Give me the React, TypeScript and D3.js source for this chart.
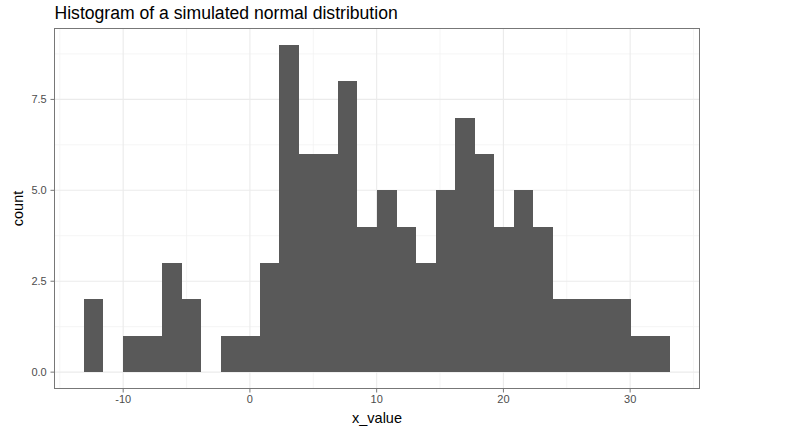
import React from "react";
import * as d3 from "d3";

// ---- data ----
const binCounts = [2, 0, 1, 1, 3, 2, 0, 1, 1, 3, 9, 6, 6, 8, 4, 5, 4, 3, 5, 7, 6, 4, 5, 4, 2, 2, 2, 2, 1, 1];
const binStart = -13.105;
const binWidth = 1.5421;
const xMajorTicks = [-10, 0, 10, 20, 30];
const xMinorTicks = [-15, -5, 5, 15, 25, 35];
const yMajorTicks = [0, 2.5, 5, 7.5];
const yMinorTicks = [1.25, 3.75, 6.25, 8.75];
const yTickLabels = ["0.0", "2.5", "5.0", "7.5"];
const xTickLabels = ["-10", "0", "10", "20", "30"];
const title = "Histogram of a simulated normal distribution";
const xTitle = "x_value";
const yTitle = "count";

const W = 798;
const H = 433;
const panel = { left: 54.5, right: 699.5, top: 28.5, bottom: 388.5 };
const FONT = "'Liberation Sans', Arial, Helvetica, sans-serif";

export default function App() {
  const bins = binCounts.map((c, i) => ({ x0: binStart + i * binWidth, x1: binStart + (i + 1) * binWidth, c }));
  const xMin = bins[0].x0;
  const xMax = bins[bins.length - 1].x1;
  const xPad = (xMax - xMin) * 0.05;
  const yMax = d3.max(binCounts) as number;
  const yPad = yMax * 0.05;

  const x = d3.scaleLinear().domain([xMin - xPad, xMax + xPad]).range([panel.left, panel.right]);
  const y = d3.scaleLinear().domain([-yPad, yMax + yPad]).range([panel.bottom, panel.top]);

  return (
    <svg
      width={W}
      height={H}
      style={{ position: "absolute", left: 0, top: 0, background: "#fff" }}
      fontFamily={FONT}
    >
      <rect x={0} y={0} width={W} height={H} fill="#fff" />
      {/* minor grid */}
      {xMinorTicks.map((t) => (
        <line key={"xm" + t} x1={x(t)} x2={x(t)} y1={panel.top} y2={panel.bottom} stroke="#F3F3F3" strokeWidth={0.8} />
      ))}
      {yMinorTicks.map((t) => (
        <line key={"ym" + t} y1={y(t)} y2={y(t)} x1={panel.left} x2={panel.right} stroke="#F3F3F3" strokeWidth={0.8} />
      ))}
      {/* major grid */}
      {xMajorTicks.map((t) => (
        <line key={"xM" + t} x1={x(t)} x2={x(t)} y1={panel.top} y2={panel.bottom} stroke="#EBEBEB" strokeWidth={1.1} />
      ))}
      {yMajorTicks.map((t) => (
        <line key={"yM" + t} y1={y(t)} y2={y(t)} x1={panel.left} x2={panel.right} stroke="#EBEBEB" strokeWidth={1.1} />
      ))}
      {/* bars */}
      <g shapeRendering="crispEdges">
        {bins.map((b, i) =>
          b.c > 0 ? (
            <rect
              key={"b" + i}
              x={x(b.x0)}
              width={x(b.x1) - x(b.x0)}
              y={y(b.c)}
              height={y(0) - y(b.c)}
              fill="#595959"
            />
          ) : null
        )}
      </g>
      {/* border */}
      <rect
        x={panel.left}
        y={panel.top}
        width={panel.right - panel.left}
        height={panel.bottom - panel.top}
        fill="none"
        stroke="#777777"
        strokeWidth={1}
      />
      {/* y ticks */}
      {yMajorTicks.map((t, i) => (
        <g key={"yt" + t}>
          <line x1={panel.left - 4} x2={panel.left} y1={y(t)} y2={y(t)} stroke="#777777" strokeWidth={1} />
          <text x={46.7} y={y(t)} dy="0.35em" textAnchor="end" fontSize={11} fill="#4D4D4D">
            {yTickLabels[i]}
          </text>
        </g>
      ))}
      {/* x ticks */}
      {xMajorTicks.map((t, i) => (
        <g key={"xt" + t}>
          <line x1={x(t)} x2={x(t)} y1={panel.bottom} y2={panel.bottom + 4} stroke="#777777" strokeWidth={1} />
          <text x={x(t)} y={403.3} textAnchor="middle" fontSize={11} fill="#4D4D4D">
            {xTickLabels[i]}
          </text>
        </g>
      ))}
      {/* titles */}
      <text x={panel.left} y={19.3} fontSize={17.6} fill="#000">
        {title}
      </text>
      <text x={(panel.left + panel.right) / 2} y={423.3} textAnchor="middle" fontSize={14.5} fill="#000">
        {xTitle}
      </text>
      <text
        transform={`translate(22.5, ${(panel.top + panel.bottom) / 2}) rotate(-90)`}
        textAnchor="middle"
        fontSize={14.5}
        fill="#000"
      >
        {yTitle}
      </text>
    </svg>
  );
}
